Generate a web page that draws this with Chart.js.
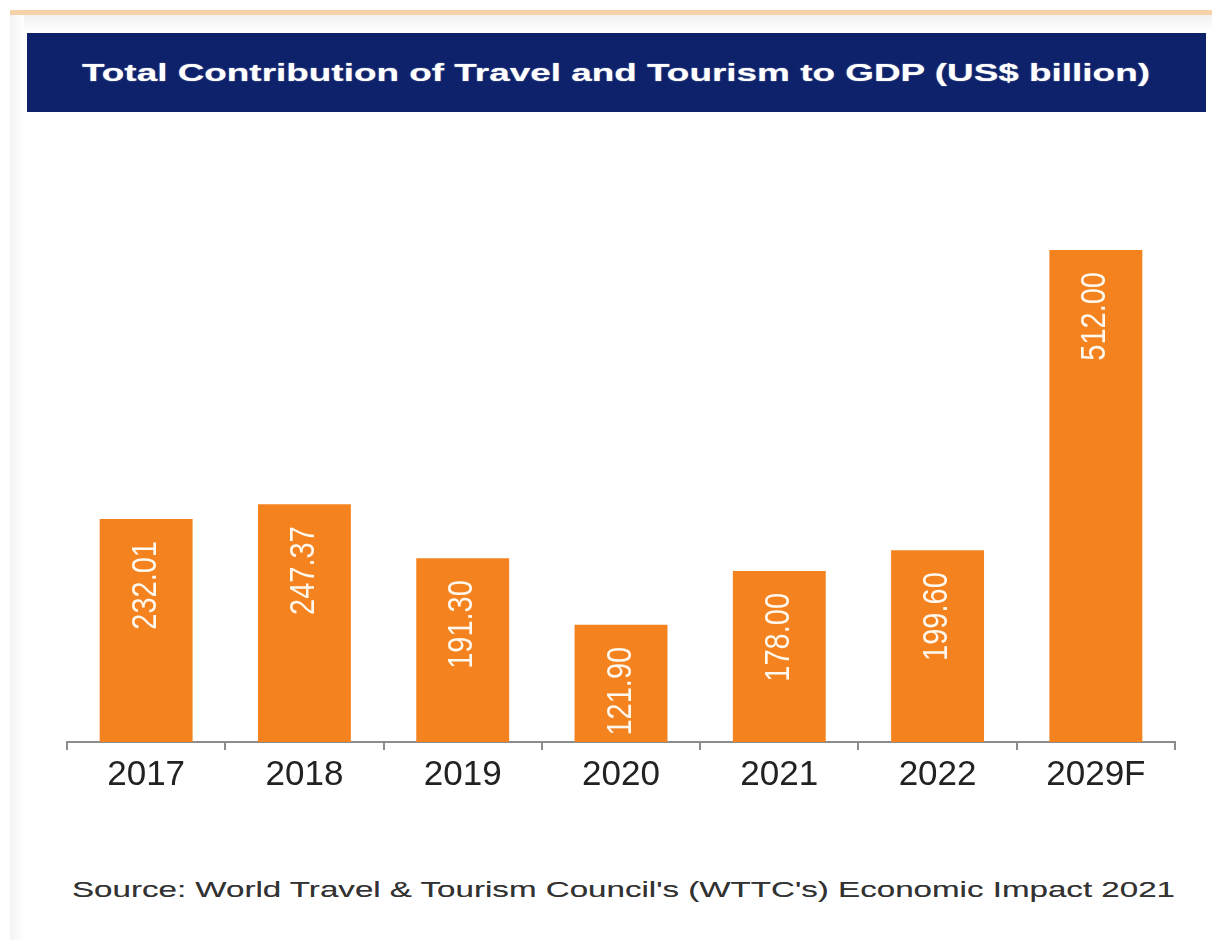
<!DOCTYPE html>
<html>
<head>
<meta charset="utf-8">
<script src="https://cdn.jsdelivr.net/npm/chart.js@4.4.1/dist/chart.umd.min.js"></script>
<style>
  html, body { margin: 0; padding: 0; background: #fff; }
  body { width: 1212px; height: 940px; position: relative; overflow: hidden; font-family: "Liberation Sans", Arial, sans-serif; }
  .topline { position: absolute; left: 10px; right: 0; top: 10px; height: 5px; background: #f6d2ab; }
  .topshade { position: absolute; left: 10px; right: 0; top: 15px; height: 16px; background: linear-gradient(#f1f1f1, #fff); }
  .leftline { position: absolute; left: 10px; top: 15px; bottom: 0; width: 14px; background: linear-gradient(90deg, #f3f3f3, #fff); }
  .titlebar { position: absolute; left: 27px; top: 33px; width: 1179px; height: 79px; background: #0d226b; }
  .stretch { position: absolute; white-space: nowrap; transform-origin: 0 50%; }
  #title { top: 73px; left: 82px; color: #fff; font-weight: bold; font-size: 24px; line-height: 0; text-shadow: 0 0 1px rgba(255,255,255,0.7); }
  #source { top: 890px; left: 72px; color: #333; font-size: 22px; line-height: 0; text-shadow: 0 0 0.5px rgba(0,0,0,0.5); }
  #wrap { position: absolute; left: 57px; top: 240px; width: 1128px; height: 560px; }
</style>
</head>
<body>
<div class="topline"></div>
<div class="topshade"></div>
<div class="leftline"></div>
<div class="titlebar"></div>
<div id="title" class="stretch">Total Contribution of Travel and Tourism to GDP (US$ billion)</div>
<div id="source" class="stretch">Source: World Travel &amp; Tourism Council's (WTTC's) Economic Impact 2021</div>
<div id="wrap"><canvas id="chart"></canvas></div>
<script>
// ── Data ─────────────────────────────────────────────────────────────────────
const years  = ['2017', '2018', '2019', '2020', '2021', '2022', '2029F'];
const gdp    = [232.01, 247.37, 191.30, 121.90, 178.00, 199.60, 512.00];
const yMax   = 512;

// stretch the two text lines to the width they take in the picture
function fitWidth(id, target) {
  const el = document.getElementById(id);
  const w = el.getBoundingClientRect().width;
  el.style.transform = 'scaleX(' + (target / w) + ')';
}
fitWidth('title', 1068);
fitWidth('source', 1103);

// ── Value labels, rotated inside each bar ───────────────────────────────────
const barLabels = {
  id: 'barLabels',
  afterDatasetsDraw(chart) {
    const ctx = chart.ctx;
    const meta = chart.getDatasetMeta(0);
    ctx.save();
    ctx.fillStyle = '#fff8ee';
    ctx.font = '29px "Liberation Sans", Arial, sans-serif';
    ctx.textAlign = 'right';
    ctx.textBaseline = 'middle';
    meta.data.forEach((bar, i) => {
      ctx.save();
      ctx.translate(bar.x, bar.y + 22);
      ctx.scale(1.2, 1);
      ctx.rotate(-Math.PI / 2);
      ctx.fillText(gdp[i].toFixed(2), 0, 0);
      ctx.restore();
    });
    ctx.restore();
  },
};

new Chart(document.getElementById('chart'), {
  type: 'bar',
  data: {
    labels: years,
    datasets: [{
      data: gdp,
      backgroundColor: '#f4831f',
      barPercentage: 0.587,
      categoryPercentage: 1,
    }],
  },
  options: {
    responsive: true, maintainAspectRatio: false, animation: false,
    layout: { padding: { top: 10, left: 10, right: 10, bottom: 0 } },
    plugins: { legend: { display: false }, tooltip: { enabled: false } },
    scales: {
      x: {
        grid: { offset: true, drawOnChartArea: false, drawTicks: true, tickLength: 8, color: '#8c8c8c', lineWidth: 2 },
        border: { display: true, color: '#8c8c8c', width: 2 },
        ticks: { color: '#222', padding: 4, font: { family: '"Liberation Sans", Arial, sans-serif', size: 35 } },
        afterFit(scale) { scale.height = 58; },
      },
      y: { display: false, min: 0, max: yMax },
    },
  },
  plugins: [barLabels],
});
</script>
</body>
</html>
